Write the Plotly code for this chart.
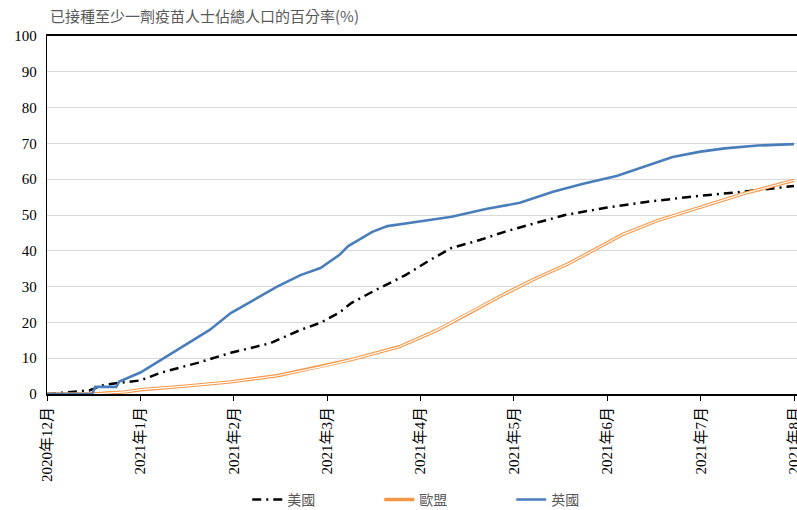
import calendar
import datetime as dt
import plotly.graph_objects as go

# ---------------- data ----------------
month_labels = ["2020年12月", "2021年1月", "2021年2月", "2021年3月", "2021年4月",
                "2021年5月", "2021年6月", "2021年7月", "2021年8月"]

us_dates = ["2020-12-01", "2020-12-08", "2020-12-15", "2020-12-20", "2020-12-26",
            "2021-01-01", "2021-01-08", "2021-01-20", "2021-01-31", "2021-02-12",
            "2021-02-21", "2021-02-27", "2021-03-05", "2021-03-09", "2021-03-17",
            "2021-03-27", "2021-04-04", "2021-04-11", "2021-04-20", "2021-04-28",
            "2021-05-08", "2021-05-18", "2021-06-01", "2021-06-14", "2021-06-30",
            "2021-07-15", "2021-08-01"]
us_values = [0.0, 0.4, 1.0, 2.6, 3.2,
             3.8, 6.0, 8.7, 11.5, 14.2,
             17.9, 19.9, 22.7, 25.4, 29.0,
             33.2, 37.4, 40.8, 43.0, 45.3,
             47.7, 50.0, 52.1, 53.7, 55.3,
             56.5, 58.1]

eu_dates = ["2020-12-01", "2020-12-16", "2020-12-27", "2021-01-01", "2021-01-16",
            "2021-01-31", "2021-02-14", "2021-02-27", "2021-03-09", "2021-03-25",
            "2021-04-06", "2021-04-16", "2021-04-27", "2021-05-08", "2021-05-19",
            "2021-05-26", "2021-06-06", "2021-06-17", "2021-06-30", "2021-07-15",
            "2021-08-01"]
eu_values = [0.0, 0.0, 0.6, 1.2, 2.2,
             3.4, 5.1, 7.6, 9.6, 13.2,
             17.7, 22.3, 27.5, 32.2, 36.4,
             39.5, 44.6, 48.4, 52.0, 55.9,
             59.7]

uk_dates = ["2020-12-01", "2020-12-16", "2020-12-17", "2020-12-24", "2020-12-25",
            "2021-01-01", "2021-01-08", "2021-01-16", "2021-01-24", "2021-01-31",
            "2021-02-07", "2021-02-14", "2021-02-21", "2021-02-27", "2021-03-05",
            "2021-03-08", "2021-03-16", "2021-03-21", "2021-03-31", "2021-04-11",
            "2021-04-22", "2021-05-03", "2021-05-14", "2021-05-24", "2021-06-04",
            "2021-06-15", "2021-06-22", "2021-07-01", "2021-07-09", "2021-07-20",
            "2021-08-01"]
uk_values = [0.0, 0.0, 2.0, 2.0, 3.5,
             6.0, 9.6, 13.7, 17.9, 22.6,
             26.3, 30.0, 33.2, 35.2, 38.8,
             41.3, 45.3, 46.9, 48.1, 49.5,
             51.7, 53.4, 56.5, 58.7, 60.9,
             64.2, 66.2, 67.7, 68.6, 69.4,
             69.8]

y_ticks = [0, 10, 20, 30, 40, 50, 60, 70, 80, 90, 100]

# month-based category axis: each month gets equal width
def to_month_pos(s):
    d = dt.date.fromisoformat(s)
    idx = (d.year - 2020) * 12 + d.month - 12
    return idx + (d.day - 1) / calendar.monthrange(d.year, d.month)[1]

us_x = [to_month_pos(s) for s in us_dates]
eu_x = [to_month_pos(s) for s in eu_dates]
uk_x = [to_month_pos(s) for s in uk_dates]

serif = "Times New Roman, Liberation Serif, Noto Sans CJK TC, serif"
cjk = "Microsoft JhengHei, Noto Sans CJK TC, sans-serif"

fig = go.Figure()
fig.add_trace(go.Scatter(x=us_x, y=us_values, mode="lines", name="美國",
                         line=dict(color="#000000", width=2.5, dash="9px,5px,2px,5px")))
fig.add_trace(go.Scatter(x=eu_x, y=eu_values, mode="lines", name="歐盟",
                         line=dict(color="#F79646", width=3.4)))
fig.add_trace(go.Scatter(x=eu_x, y=eu_values, mode="lines", name="歐盟",
                         showlegend=False, hoverinfo="skip",
                         line=dict(color="#FFFFFF", width=1.2)))
fig.add_trace(go.Scatter(x=uk_x, y=uk_values, mode="lines", name="英國",
                         line=dict(color="#4A7EBB", width=2.6)))

fig.update_layout(
    width=797, height=510,
    margin=dict(l=47, r=0, t=36, b=116, autoexpand=False),
    paper_bgcolor="white", plot_bgcolor="white",
    title=dict(text="已接種至少一劑疫苗人士佔總人口的百分率(%)",
               font=dict(family=cjk, size=15, color="#595959"),
               x=50 / 797, xref="container", xanchor="left",
               y=1 - 17 / 510, yref="container", yanchor="middle"),
    showlegend=True,
    legend=dict(orientation="h", x=0.531, xanchor="center", y=-0.296, yanchor="middle",
                xref="paper", yref="paper",
                font=dict(family=cjk, size=14, color="#595959"),
                itemwidth=30, entrywidth=87, bgcolor="rgba(0,0,0,0)"),
    xaxis=dict(range=[0, 8.032], tickmode="array", automargin=False,
               tickvals=list(range(len(month_labels))), ticktext=month_labels,
               tickangle=-90, ticks="outside", ticklen=5, tickwidth=1.2, tickcolor="#000",
               ticklabeloverflow="allow",
               showline=True, linecolor="#000", linewidth=2, mirror=True,
               showgrid=False, zeroline=False,
               tickfont=dict(family=serif, size=15, color="#000")),
    yaxis=dict(range=[0, 100], tickmode="array", tickvals=y_ticks, automargin=False,
               showline=True, linecolor="#000", linewidth=1.3,
               showgrid=True, gridcolor="#D9D9D9", gridwidth=1,
               zeroline=False, ticks="", ticklabelstandoff=6,
               tickfont=dict(family=serif, size=15, color="#000")),
)

fig.write_html("out.html")
